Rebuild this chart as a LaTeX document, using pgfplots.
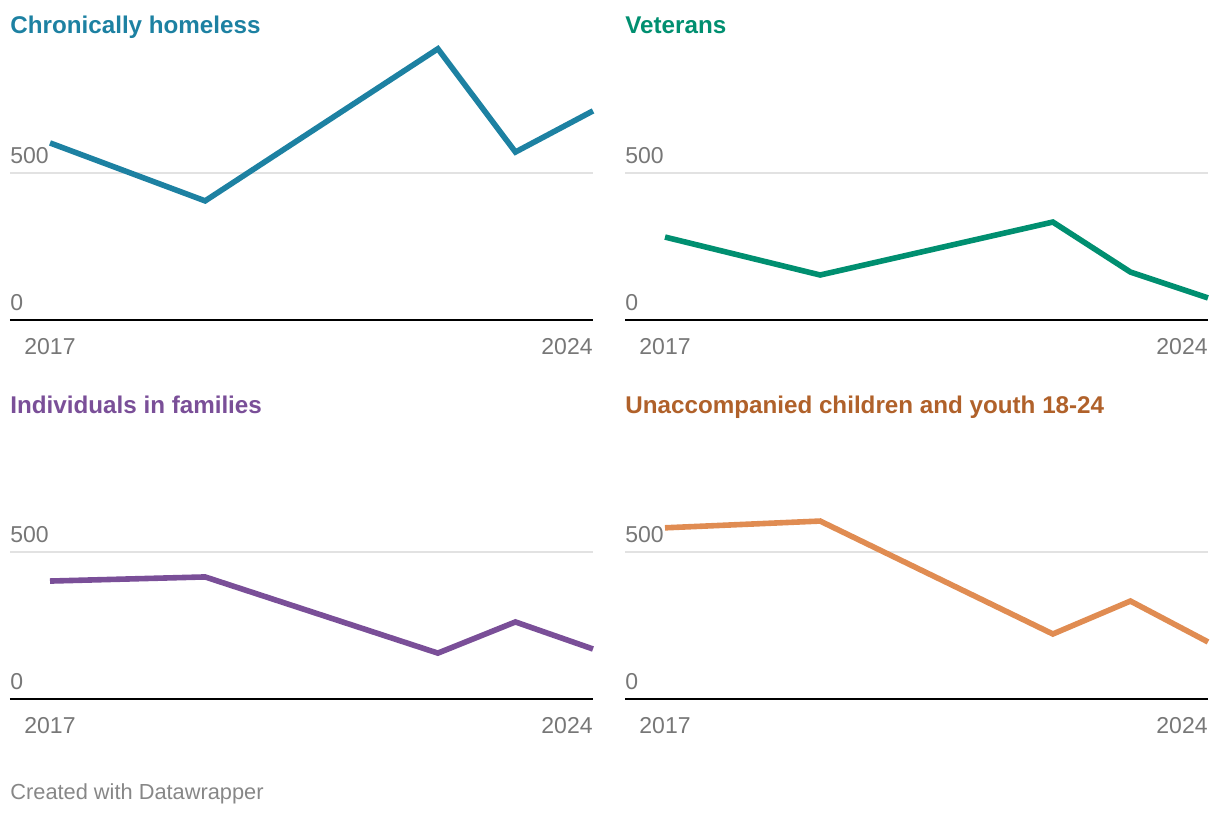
\documentclass[border=0pt]{standalone}
\usepackage{pgfplots}
\pgfplotsset{compat=1.18}
\usepackage{fontspec}
\setmainfont{Liberation Sans}
\definecolor{cblue}{HTML}{1D81A2}
\definecolor{cgreen}{HTML}{008F70}
\definecolor{cpurple}{HTML}{7A4F98}
\definecolor{corange}{HTML}{E08C52}
\definecolor{corangetitle}{HTML}{B0612A}
\definecolor{tickgray}{HTML}{777777}
\definecolor{gridgray}{HTML}{E2E2E2}
\pgfplotsset{
  panel/.style={
    scale only axis,
    width=291.5pt, height=140pt,
    anchor=origin,
    xmin=2016.4843, xmax=2024,
    ymin=0, ymax=952,
    clip=false,
    /pgf/number format/assume math mode=true,
    axis x line*=bottom,
    axis y line*=left,
    x axis line style={black, line width=1pt, -},
    y axis line style={draw=none},
    xtick={2017}, xticklabels={2017},
    extra x ticks={2024}, extra x tick labels={2024},
    extra x tick style={xticklabel style={anchor=north east}},
    major tick length=0pt,
    xticklabel style={anchor=north, inner sep=0pt, yshift=-9pt, text=tickgray, font=\fontsize{11.5}{12}\selectfont},
    ytick={0,500},
    yticklabel style={anchor=south west, inner sep=0pt, xshift=0pt, yshift=4.5pt, text=tickgray, font=\fontsize{11.5}{12}\selectfont},
    ymajorgrids, grid style={gridgray, line width=0.75pt},
    every axis plot/.append style={line width=2.8pt, line join=miter, line cap=butt},
  }
}
\begin{document}
\begin{tikzpicture}[x=1pt,y=1pt]
\useasboundingbox (0,0) rectangle (610,408);
\begin{axis}[panel, at={(5pt,248pt)}]
\addplot[cblue] coordinates {(2017,602) (2019,405) (2022,922) (2023,571) (2024,711)};
\end{axis}
\begin{axis}[panel, at={(312.5pt,248pt)}]
\addplot[cgreen] coordinates {(2017,282) (2019,153) (2022,333) (2023,163) (2024,75)};
\end{axis}
\begin{axis}[panel, at={(5pt,58.5pt)}]
\addplot[cpurple] coordinates {(2017,401) (2019,415) (2022,156) (2023,262) (2024,170)};
\end{axis}
\begin{axis}[panel, at={(312.5pt,58.5pt)}]
\addplot[corange] coordinates {(2017,582) (2019,605) (2022,221) (2023,333) (2024,194)};
\end{axis}
\node[anchor=base west, inner sep=0pt, text=cblue, font=\bfseries\fontsize{12.1}{13}\selectfont] at (5,391) {Chronically homeless};
\node[anchor=base west, inner sep=0pt, text=cgreen, font=\bfseries\fontsize{12.1}{13}\selectfont] at (312.5,391) {Veterans};
\node[anchor=base west, inner sep=0pt, text=cpurple, font=\bfseries\fontsize{12.1}{13}\selectfont] at (5,201.5) {Individuals in families};
\node[anchor=base west, inner sep=0pt, text=corangetitle, font=\bfseries\fontsize{12.1}{13}\selectfont] at (312.5,201.5) {Unaccompanied children and youth 18-24};
\node[anchor=base west, inner sep=0pt, text=black!47, font=\fontsize{10.9}{11}\selectfont] at (5,8.5) {Created with Datawrapper};
\end{tikzpicture}
\end{document}
